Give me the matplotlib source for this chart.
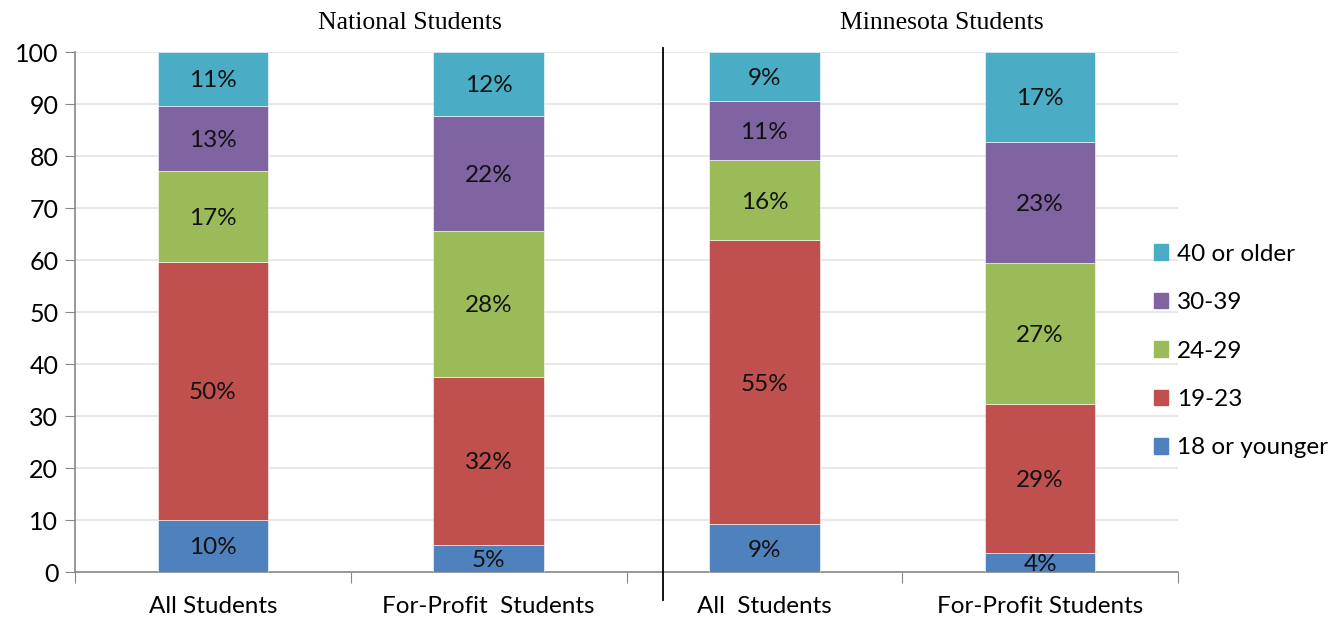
import numpy as np
import matplotlib.pyplot as plt
from matplotlib.patches import Rectangle

groups = ["All Students", "For-Profit  Students", "All  Students", "For-Profit Students"]
series = ["18 or younger", "19-23", "24-29", "30-39", "40 or older"]
colors = ["#4F81BD", "#C0504D", "#9BBB59", "#8064A2", "#4BACC6"]

# segment heights per bar
age_18 = [10.0, 5.2, 9.2, 3.6]
age_19_23 = [49.7, 32.3, 54.6, 28.7]
age_24_29 = [17.4, 28.1, 15.4, 27.1]
age_30_39 = [12.6, 22.1, 11.4, 23.3]
age_40 = [10.3, 12.3, 9.4, 17.3]

# labels printed on the chart
lbl_18 = ["10%", "5%", "9%", "4%"]
lbl_19_23 = ["50%", "32%", "55%", "29%"]
lbl_24_29 = ["17%", "28%", "16%", "27%"]
lbl_30_39 = ["13%", "22%", "11%", "23%"]
lbl_40 = ["11%", "12%", "9%", "17%"]

panel_titles = ["National Students", "Minnesota Students"]

values = [age_18, age_19_23, age_24_29, age_30_39, age_40]
labels = [lbl_18, lbl_19_23, lbl_24_29, lbl_30_39, lbl_40]

plt.rcParams["font.family"] = ["Lato", "DejaVu Sans"]

fig = plt.figure(figsize=(13.43, 6.19), dpi=100)
ax = fig.add_axes([75 / 1343, 1 - 572 / 619, (1178 - 75) / 1343, 520 / 619])

x = np.arange(len(groups)) + 0.5
bottom = np.zeros(len(groups))
for vals, labs, col, name in zip(values, labels, colors, series):
    vals = np.array(vals)
    ax.bar(x, vals, 0.4, bottom=bottom, color=col, label=name, zorder=3,
           edgecolor="white", linewidth=0.4)
    for xi, b, v, t in zip(x, bottom, vals, labs):
        ax.text(xi, b + v / 2, t, ha="center", va="center_baseline",
                fontsize=17.5, color="#111111", zorder=4)
    bottom += vals

ax.set_xlim(0, 4)
ax.set_ylim(0, 100)
ax.set_yticks(np.arange(0, 101, 10))
ax.yaxis.grid(True, color="#e8e8e8", linewidth=1.5, zorder=0)
ax.set_axisbelow(True)
ax.tick_params(axis="y", labelsize=18, length=7, color="#888888", pad=5)

ax.set_xticks(np.arange(0, 5))
ax.set_xticklabels([])
ax.set_xticks(x, minor=True)
ax.set_xticklabels(groups, minor=True, fontsize=17.5)
ax.tick_params(axis="x", which="major", length=8, color="#888888")
ax.tick_params(axis="x", which="minor", length=0, pad=17)

for s in ["top", "right"]:
    ax.spines[s].set_visible(False)
ax.spines["left"].set_color("#888888")
ax.spines["bottom"].set_color("#888888")
ax.spines["left"].set_linewidth(1.2)
ax.spines["bottom"].set_linewidth(1.2)

# separator between the two panels
ax.plot([2.134, 2.134], [-5.4, 100.8], color="black", linewidth=1.3,
        clip_on=False, zorder=5)

ax.text(1.214, 105.6, panel_titles[0], ha="center", va="center", fontsize=18.5,
        family="Liberation Serif")
ax.text(3.145, 105.6, panel_titles[1], ha="center", va="center", fontsize=18.5,
        family="Liberation Serif")

handles = [Rectangle((0, 0), 1, 1, color=c) for c in colors][::-1]
ax.legend(handles, series[::-1], loc="center left", bbox_to_anchor=(0.978, 0.425),
          frameon=False, fontsize=17.5, handlelength=0.6, handleheight=0.6,
          handletextpad=0.35, labelspacing=1.13, borderaxespad=0, borderpad=0)

fig.savefig("out.png", dpi=100)
